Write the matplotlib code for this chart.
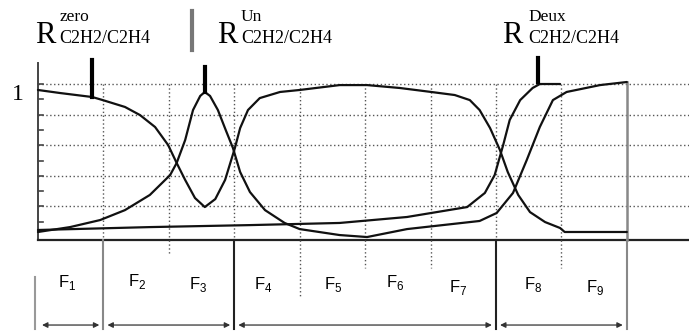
import matplotlib.pyplot as plt

plt.rcParams['mathtext.fontset'] = 'custom'
plt.rcParams['mathtext.rm'] = 'Liberation Sans'

# fonctions d'appartenance du rapport C2H2/C2H4 (abscisse en nombre d'intervalles)
zero_x = [0, 0.34, 0.83, 0.99, 1.33, 1.56, 1.79, 1.99, 2.12, 2.25, 2.4, 2.55, 2.71, 2.86,
          3.01, 3.09, 3.21, 3.39, 3.7, 4.0, 4.61, 5.03, 5.53, 6.01, 6.37, 6.6, 6.75, 6.91,
          7.06, 7.18, 7.34, 7.52, 7.75, 7.98, 8.05, 9.0]
zero_y = [0.961, 0.941, 0.915, 0.895, 0.85, 0.797, 0.719, 0.601, 0.484, 0.373, 0.255, 0.196,
          0.248, 0.373, 0.582, 0.712, 0.83, 0.908, 0.948, 0.961, 0.993, 0.993, 0.974, 0.948,
          0.928, 0.895, 0.83, 0.712, 0.569, 0.425, 0.275, 0.163, 0.098, 0.059, 0.033, 0.033]

un_x = [0, 0.49, 0.95, 1.33, 1.71, 2.02, 2.12, 2.25, 2.37, 2.48, 2.55, 2.63, 2.75, 2.87, 2.98,
        3.09, 3.24, 3.47, 3.77, 4.0, 4.61, 5.03, 5.64, 6.75, 7.01, 7.26, 7.47, 7.67, 7.87,
        8.08, 8.59, 9.0]
un_y = [0.033, 0.065, 0.111, 0.176, 0.275, 0.405, 0.484, 0.634, 0.83, 0.922, 0.948, 0.922,
        0.83, 0.699, 0.582, 0.425, 0.294, 0.176, 0.092, 0.052, 0.013, 0.0, 0.052, 0.105,
        0.157, 0.288, 0.503, 0.719, 0.895, 0.948, 0.993, 1.013]

deux_x = [0, 1.71, 3.24, 4.61, 5.64, 6.56, 6.83, 6.98, 7.11, 7.21, 7.37, 7.56, 7.67, 7.98]
deux_y = [0.046, 0.065, 0.078, 0.092, 0.131, 0.196, 0.288, 0.405, 0.601, 0.765, 0.895,
          0.974, 1.0, 1.0]

grid_levels = [0.2, 0.4, 0.6, 0.8, 1.0]
grid_cols = [1, 2, 3, 4, 5, 6, 7, 8]

# repères R (position, bas, haut) et étiquettes
mark_x = [0.83, 2.55, 7.64]
mark_lo = [0.915, 0.948, 1.01]
mark_hi = [1.157, 1.11, 1.17]
r_names = ['zero', 'Un', 'Deux']
r_left = [-0.05, 2.735, 7.1]
r_sub_left = [0.33, 3.1, 7.49]

# classes de défaut
f_labels = ['F$_{1}$', 'F$_{2}$', 'F$_{3}$', 'F$_{4}$', 'F$_{5}$',
            'F$_{6}$', 'F$_{7}$', 'F$_{8}$', 'F$_{9}$']
f_x = [0.45, 1.51, 2.45, 3.44, 4.51, 5.46, 6.42, 7.57, 8.51]
f_y = [-0.30, -0.29, -0.31, -0.31, -0.31, -0.30, -0.33, -0.31, -0.33]
bounds = [0, 1, 3, 7, 9]

fig = plt.figure(figsize=(6.89, 3.31), dpi=100)
ax = fig.add_axes([0, 0, 1, 1])
ax.set_xlim(-0.58, 9.95)
ax.set_ylim(-0.614, 1.549)
ax.axis('off')

# quadrillage pointillé
dot = (0, (1, 1.8))
for lvl in grid_levels:
    ax.plot([0, 9.95], [lvl, lvl], color='#555555', lw=1.0, ls=dot)
for xv in grid_cols:
    ax.plot([xv, xv], [0, 1.0], color='#555555', lw=1.0, ls=dot)

# petites graduations sur l'axe vertical
for i in range(1, 11):
    ax.plot([0, 0.07], [i / 10, i / 10], color='#444444', lw=1.2)

# axes
ax.plot([0, 0], [-0.02, 1.14], color='#444444', lw=1.4)
ax.plot([0, 9.95], [-0.02, -0.02], color='#222222', lw=1.6)
ax.plot([9, 9], [-0.02, 1.013], color='#888888', lw=1.8)

# courbes
for xs, ys in [(zero_x, zero_y), (un_x, un_y), (deux_x, deux_y)]:
    ax.plot(xs, ys, color='#111111', lw=1.6, solid_capstyle='round')

# repères verticaux
for mx, lo, hi in zip(mark_x, mark_lo, mark_hi):
    ax.plot([mx, mx], [lo, hi], color='black', lw=3)

ax.text(-0.31, 0.93, '1', family='Liberation Serif', fontsize=17, ha='center', va='center')

# étiquettes R avec exposant et indice
for name, xl, xs in zip(r_names, r_left, r_sub_left):
    ax.text(xl, 1.268, 'R', family='Liberation Serif', fontsize=22, va='baseline')
    ax.text(xs, 1.41, name, family='Liberation Serif', fontsize=12.5, va='baseline')
    ax.text(xs, 1.268, 'C2H2/C2H4', family='Liberation Serif', fontsize=13, va='baseline')
ax.plot([2.36, 2.36], [1.22, 1.48], color='#777777', lw=3)

# bande inférieure
for xv in [1, 3, 7, 9]:
    ax.plot([xv, xv], [-0.02, -0.6], color='#222222' if xv in (3, 7) else '#888888', lw=1.5)
for xv, lo in zip([2, 4, 5, 6, 8], [-0.12, -0.4, -0.2, -0.2, -0.2]):
    ax.plot([xv, xv], [-0.02, lo], color='#555555', lw=1.0, ls=dot)
ax.plot([-0.05, -0.05], [-0.26, -0.6], color='#999999', lw=1.5)

for lab, xt, yt in zip(f_labels, f_x, f_y):
    ax.text(xt, yt, lab, family='Liberation Sans', fontsize=12, ha='center', va='center')

for a, b in zip(bounds[:-1], bounds[1:]):
    ax.annotate('', xy=(a + 0.02, -0.575), xytext=(b - 0.02, -0.575),
                arrowprops=dict(arrowstyle='<|-|>', color='#333333', lw=0.9,
                                mutation_scale=8))

plt.savefig('out.png', dpi=100)
